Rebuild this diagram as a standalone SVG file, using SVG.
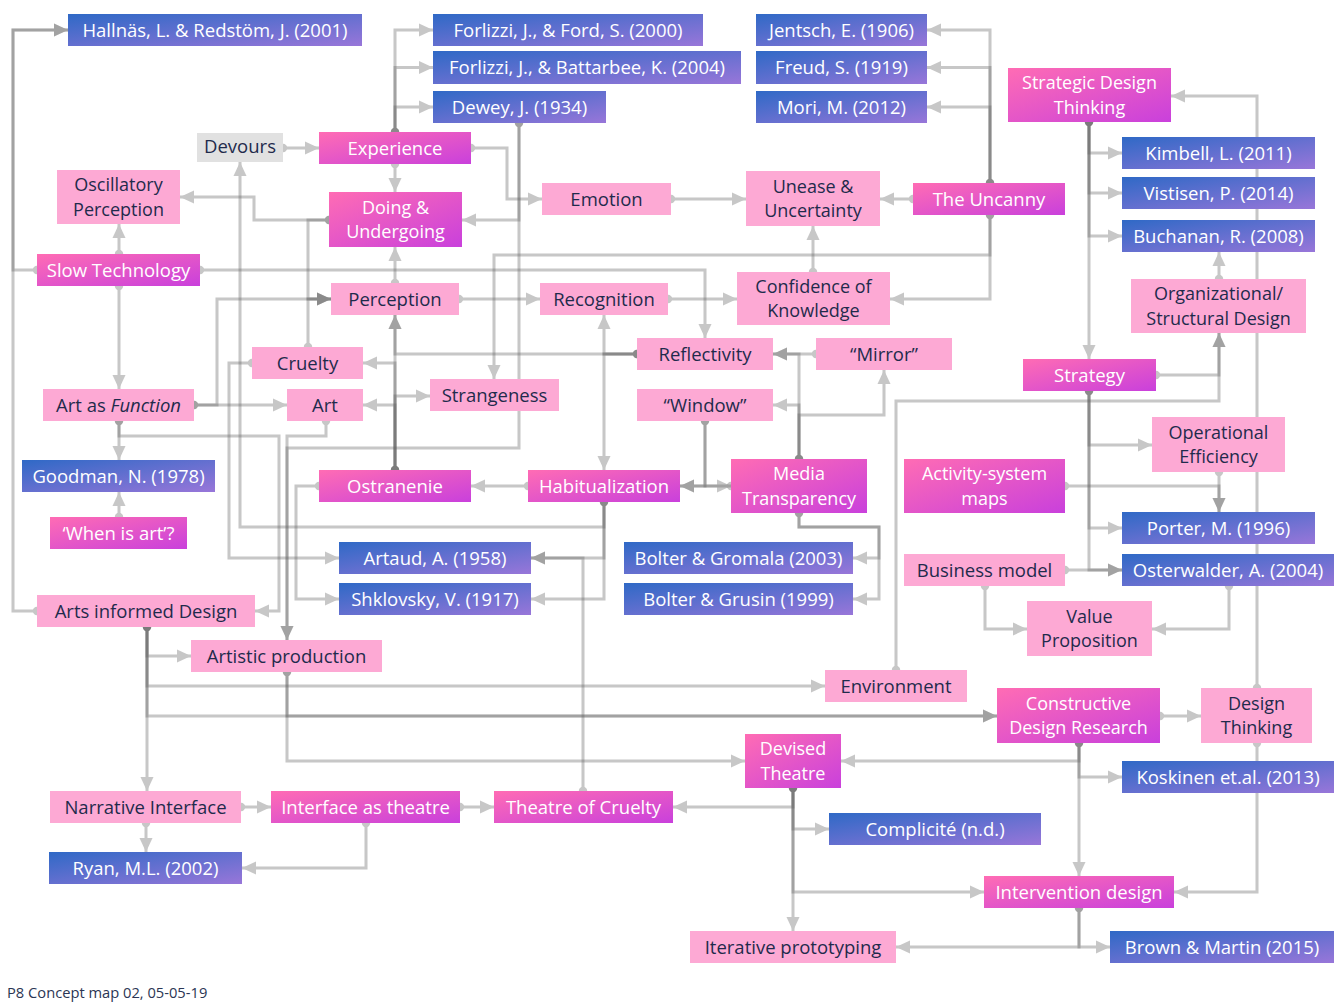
<svg xmlns="http://www.w3.org/2000/svg" width="1344" height="1008" viewBox="0 0 1344 1008">
<defs>
<linearGradient id="gb" x1="0" y1="0" x2="1" y2="1"><stop offset="0" stop-color="#2f69c6"/><stop offset="1" stop-color="#9876d9"/></linearGradient>
<linearGradient id="gm" x1="0" y1="0" x2="1" y2="1"><stop offset="0" stop-color="#ff6cb4"/><stop offset="1" stop-color="#c940dc"/></linearGradient>
<marker id="a" viewBox="0 0 14 14" refX="14" refY="7" markerWidth="14" markerHeight="14" markerUnits="userSpaceOnUse" orient="auto"><path d="M0,0.5 L14,7 L0,13.5z" fill="#606060"/></marker>
<marker id="d" viewBox="0 0 10 10" refX="5" refY="5" markerWidth="10" markerHeight="10" markerUnits="userSpaceOnUse"><circle cx="5" cy="5" r="4.2" fill="#606060"/></marker>
</defs>
<style>
.c{fill:none;stroke:#606060;stroke-width:3;opacity:.35;marker-start:url(#d);marker-end:url(#a)}
.b{fill:url(#gb)}.m{fill:url(#gm)}.p{fill:#fda9d4}.g{fill:#e1e1e1}
text{font-family:"Open Sans","Noto Sans","DejaVu Sans",sans-serif;font-size:18.5px;text-anchor:middle}
text.s{font-size:18px}
.w{fill:#fff}.k{fill:#1f2b4c}
</style>
<rect width="1344" height="1008" fill="#fff"/>
<g id="connectors">
<path class="c" d="M37,270 H13 V30 H68"/>
<path class="c" d="M37,611 H13 V30 H68"/>
<path class="c" d="M119,254 V224"/>
<path class="c" d="M119,286 V389"/>
<path class="c" d="M200,270 H705 V338"/>
<path class="c" d="M194,405 H287"/>
<path class="c" d="M194,405 H217 V299 H331"/>
<path class="c" d="M119,421 V460"/>
<path class="c" d="M119,421 V436 H279 V611 H255"/>
<path class="c" d="M119,517 V492"/>
<path class="c" d="M326,421 V436 H287 V640"/>
<path class="c" d="M519,123 V448 H287 V640"/>
<path class="c" d="M519,123 V220 H462"/>
<path class="c" d="M329,220 H254 V197 H180"/>
<path class="c" d="M329,220 H308 V299 H331"/>
<path class="c" d="M308,347 V299 H331"/>
<path class="c" d="M252,363 H229 V558 H339"/>
<path class="c" d="M283,148 H319"/>
<path class="c" d="M395,132 V30 H433"/>
<path class="c" d="M395,132 V67.5 H433"/>
<path class="c" d="M395,132 V107 H433"/>
<path class="c" d="M395,164 V192"/>
<path class="c" d="M471,148 H507 V199 H542"/>
<path class="c" d="M395,283 V247"/>
<path class="c" d="M459,299 H540"/>
<path class="c" d="M668,299 H737"/>
<path class="c" d="M671,199 H746"/>
<path class="c" d="M913,199 H880"/>
<path class="c" d="M990,183 V30 H927"/>
<path class="c" d="M990,183 V67.5 H927"/>
<path class="c" d="M990,183 V107 H927"/>
<path class="c" d="M990,215 V255 H494 V379"/>
<path class="c" d="M990,215 V299 H890"/>
<path class="c" d="M813,272 V226"/>
<path class="c" d="M395,470 V315"/>
<path class="c" d="M395,470 V396 H430"/>
<path class="c" d="M395,470 V405 H363"/>
<path class="c" d="M395,470 V363 H363"/>
<path class="c" d="M319,486 H296 V599 H339"/>
<path class="c" d="M637,354 H604 V315"/>
<path class="c" d="M637,354 H604 V470"/>
<path class="c" d="M637,354 H395 V315"/>
<path class="c" d="M528,486 H471"/>
<path class="c" d="M604,502 V527 H240 V162"/>
<path class="c" d="M604,502 V558 H531"/>
<path class="c" d="M604,502 V599 H531"/>
<path class="c" d="M583,791 V558 H531"/>
<path class="c" d="M705,421 V486 H731"/>
<path class="c" d="M705,421 V486 H680"/>
<path class="c" d="M731,486 H680"/>
<path class="c" d="M799,459 V354 H773"/>
<path class="c" d="M799,459 V405 H773"/>
<path class="c" d="M799,459 V415 H884 V370"/>
<path class="c" d="M816,354 H773"/>
<path class="c" d="M799,513 V527 H879 V558 H853"/>
<path class="c" d="M799,513 V527 H879 V599 H853"/>
<path class="c" d="M147,627 V656 H191"/>
<path class="c" d="M147,627 V686 H825"/>
<path class="c" d="M147,627 V716 H997"/>
<path class="c" d="M147,627 V791"/>
<path class="c" d="M287,672 V716 H997"/>
<path class="c" d="M287,672 V761 H745"/>
<path class="c" d="M146,823 V852"/>
<path class="c" d="M241,807 H271"/>
<path class="c" d="M366,823 V868 H242"/>
<path class="c" d="M460,807 H494"/>
<path class="c" d="M793,788 V807 H673"/>
<path class="c" d="M793,788 V829 H829"/>
<path class="c" d="M793,788 V892 H984"/>
<path class="c" d="M793,788 V931"/>
<path class="c" d="M1160,716 H1201"/>
<path class="c" d="M1079,743 V761 H841"/>
<path class="c" d="M1079,743 V777 H1122"/>
<path class="c" d="M1079,743 V876"/>
<path class="c" d="M1257,743 V892 H1174"/>
<path class="c" d="M1257,688 V96 H1171"/>
<path class="c" d="M1079,908 V947 H1110"/>
<path class="c" d="M1079,908 V947 H896"/>
<path class="c" d="M1089,122 V153 H1122"/>
<path class="c" d="M1089,122 V193 H1122"/>
<path class="c" d="M1089,122 V236 H1122"/>
<path class="c" d="M1089,122 V359"/>
<path class="c" d="M1156,375 H1219 V333"/>
<path class="c" d="M896,670 V401 H1219 V333"/>
<path class="c" d="M1219,279 V252"/>
<path class="c" d="M1089,391 V445 H1152"/>
<path class="c" d="M1089,391 V528 H1122"/>
<path class="c" d="M1089,391 V570 H1122"/>
<path class="c" d="M1219,472 V512"/>
<path class="c" d="M1065,486 H1219 V512"/>
<path class="c" d="M1065,570 H1122"/>
<path class="c" d="M1229,586 V629 H1152"/>
<path class="c" d="M985,586 V629 H1027"/>
</g>
<g id="hallnas"><rect class="b" x="68" y="14" width="294" height="32"/><text class="w" x="215" y="36.7">Hallnäs, L. &amp; Redstöm, J. (2001)</text></g>
<g id="forlizzi-ford"><rect class="b" x="433" y="14" width="270" height="32"/><text class="w" x="568" y="36.7">Forlizzi, J., &amp; Ford, S. (2000)</text></g>
<g id="forlizzi-battarbee"><rect class="b" x="433" y="51" width="308" height="33"/><text class="w" x="587" y="74">Forlizzi, J., &amp; Battarbee, K. (2004)</text></g>
<g id="dewey"><rect class="b" x="433" y="91" width="173" height="32"/><text class="w" x="519.5" y="113.7">Dewey, J. (1934)</text></g>
<g id="jentsch"><rect class="b" x="756" y="14" width="171" height="32"/><text class="w" x="841.5" y="36.7">Jentsch, E. (1906)</text></g>
<g id="freud"><rect class="b" x="756" y="51" width="171" height="33"/><text class="w" x="841.5" y="74">Freud, S. (1919)</text></g>
<g id="mori"><rect class="b" x="756" y="91" width="171" height="32"/><text class="w" x="841.5" y="113.7">Mori, M. (2012)</text></g>
<g id="kimbell"><rect class="b" x="1122" y="137" width="193" height="32"/><text class="w" x="1218.5" y="159.7">Kimbell, L. (2011)</text></g>
<g id="vistisen"><rect class="b" x="1122" y="177" width="193" height="32"/><text class="w" x="1218.5" y="199.7">Vistisen, P. (2014)</text></g>
<g id="buchanan"><rect class="b" x="1122" y="220" width="193" height="32"/><text class="w" x="1218.5" y="242.7">Buchanan, R. (2008)</text></g>
<g id="goodman"><rect class="b" x="22" y="460" width="193" height="32"/><text class="w" x="118.5" y="482.7">Goodman, N. (1978)</text></g>
<g id="artaud"><rect class="b" x="339" y="542" width="192" height="32"/><text class="w" x="435" y="564.7">Artaud, A. (1958)</text></g>
<g id="shklovsky"><rect class="b" x="339" y="583" width="192" height="32"/><text class="w" x="435" y="605.7">Shklovsky, V. (1917)</text></g>
<g id="bolter-gromala"><rect class="b" x="624" y="542" width="229" height="32"/><text class="w" x="738.5" y="564.7">Bolter &amp; Gromala (2003)</text></g>
<g id="bolter-grusin"><rect class="b" x="624" y="583" width="229" height="32"/><text class="w" x="738.5" y="605.7">Bolter &amp; Grusin (1999)</text></g>
<g id="porter"><rect class="b" x="1122" y="512" width="193" height="32"/><text class="w" x="1218.5" y="534.7">Porter, M. (1996)</text></g>
<g id="osterwalder"><rect class="b" x="1122" y="554" width="212" height="32"/><text class="w" x="1228" y="576.7">Osterwalder, A. (2004)</text></g>
<g id="ryan"><rect class="b" x="49" y="852" width="193" height="32"/><text class="w" x="145.5" y="874.7">Ryan, M.L. (2002)</text></g>
<g id="complicite"><rect class="b" x="829" y="813" width="212" height="32"/><text class="w" x="935" y="835.7">Complicité (n.d.)</text></g>
<g id="koskinen"><rect class="b" x="1122" y="761" width="212" height="32"/><text class="w" x="1228" y="783.7">Koskinen et.al. (2013)</text></g>
<g id="brown-martin"><rect class="b" x="1110" y="931" width="224" height="32"/><text class="w" x="1222" y="953.7">Brown &amp; Martin (2015)</text></g>
<g id="experience"><rect class="m" x="319" y="132" width="152" height="32"/><text class="w" x="395" y="154.7">Experience</text></g>
<g id="doing-undergoing"><rect class="m" x="329" y="192" width="133" height="55"/><text class="w s"><tspan x="395.5" y="213.6">Doing &amp;</tspan><tspan x="395.5" y="238.2">Undergoing</tspan></text></g>
<g id="slow-technology"><rect class="m" x="37" y="254" width="163" height="32"/><text class="w" x="118.5" y="276.7">Slow Technology</text></g>
<g id="the-uncanny"><rect class="m" x="913" y="183" width="152" height="32"/><text class="w" x="989" y="205.7">The Uncanny</text></g>
<g id="strategic-design-thinking"><rect class="m" x="1008" y="68" width="163" height="54"/><text class="w s"><tspan x="1089.5" y="89.1">Strategic Design</tspan><tspan x="1089.5" y="113.7">Thinking</tspan></text></g>
<g id="ostranenie"><rect class="m" x="319" y="470" width="152" height="32"/><text class="w" x="395" y="492.7">Ostranenie</text></g>
<g id="habitualization"><rect class="m" x="528" y="470" width="152" height="32"/><text class="w" x="604" y="492.7">Habitualization</text></g>
<g id="media-transparency"><rect class="m" x="731" y="459" width="136" height="54"/><text class="w s"><tspan x="799" y="480.1">Media</tspan><tspan x="799" y="504.7">Transparency</tspan></text></g>
<g id="activity-system-maps"><rect class="m" x="904" y="459" width="161" height="54"/><text class="w s"><tspan x="984.5" y="480.1">Activity-system</tspan><tspan x="984.5" y="504.7">maps</tspan></text></g>
<g id="strategy"><rect class="m" x="1023" y="359" width="133" height="32"/><text class="w" x="1089.5" y="381.7">Strategy</text></g>
<g id="when-is-art"><rect class="m" x="50" y="517" width="137" height="32"/><text class="w" x="118.5" y="539.7">‘When is art’?</text></g>
<g id="interface-as-theatre"><rect class="m" x="271" y="791" width="189" height="32"/><text class="w" x="365.5" y="813.7">Interface as theatre</text></g>
<g id="theatre-of-cruelty"><rect class="m" x="494" y="791" width="179" height="32"/><text class="w" x="583.5" y="813.7">Theatre of Cruelty</text></g>
<g id="devised-theatre"><rect class="m" x="745" y="734" width="96" height="54"/><text class="w s"><tspan x="793" y="755.1">Devised</tspan><tspan x="793" y="779.7">Theatre</tspan></text></g>
<g id="constructive-design-research"><rect class="m" x="997" y="688" width="163" height="55"/><text class="w s"><tspan x="1078.5" y="709.6">Constructive</tspan><tspan x="1078.5" y="734.2">Design Research</tspan></text></g>
<g id="intervention-design"><rect class="m" x="984" y="876" width="190" height="32"/><text class="w" x="1079" y="898.7">Intervention design</text></g>
<g id="oscillatory-perception"><rect class="p" x="57" y="170" width="123" height="54"/><text class="k s"><tspan x="118.5" y="191.1">Oscillatory</tspan><tspan x="118.5" y="215.7">Perception</tspan></text></g>
<g id="perception"><rect class="p" x="331" y="283" width="128" height="32"/><text class="k" x="395" y="305.7">Perception</text></g>
<g id="emotion"><rect class="p" x="542" y="183" width="129" height="32"/><text class="k" x="606.5" y="205.7">Emotion</text></g>
<g id="recognition"><rect class="p" x="540" y="283" width="128" height="32"/><text class="k" x="604" y="305.7">Recognition</text></g>
<g id="unease-uncertainty"><rect class="p" x="746" y="171" width="134" height="55"/><text class="k s"><tspan x="813" y="192.6">Unease &amp;</tspan><tspan x="813" y="217.2">Uncertainty</tspan></text></g>
<g id="confidence-of-knowledge"><rect class="p" x="737" y="272" width="153" height="53"/><text class="k s"><tspan x="813.5" y="292.6">Confidence of</tspan><tspan x="813.5" y="317.2">Knowledge</tspan></text></g>
<g id="organizational-structural-design"><rect class="p" x="1131" y="279" width="175" height="54"/><text class="k s"><tspan x="1218.5" y="300.1">Organizational/</tspan><tspan x="1218.5" y="324.7">Structural Design</tspan></text></g>
<g id="cruelty"><rect class="p" x="252" y="347" width="111" height="32"/><text class="k" x="307.5" y="369.7">Cruelty</text></g>
<g id="art-as-function"><rect class="p" x="43" y="389" width="151" height="32"/><text class="k" x="118.5" y="411.7">Art as <tspan font-style="italic">Function</tspan></text></g>
<g id="art"><rect class="p" x="287" y="389" width="76" height="32"/><text class="k" x="325" y="411.7">Art</text></g>
<g id="strangeness"><rect class="p" x="430" y="379" width="129" height="32"/><text class="k" x="494.5" y="401.7">Strangeness</text></g>
<g id="reflectivity"><rect class="p" x="637" y="338" width="136" height="32"/><text class="k" x="705" y="360.7">Reflectivity</text></g>
<g id="window"><rect class="p" x="637" y="389" width="136" height="32"/><text class="k" x="705" y="411.7">“Window”</text></g>
<g id="mirror"><rect class="p" x="816" y="338" width="136" height="32"/><text class="k" x="884" y="360.7">“Mirror”</text></g>
<g id="operational-efficiency"><rect class="p" x="1152" y="417" width="133" height="55"/><text class="k s"><tspan x="1218.5" y="438.6">Operational</tspan><tspan x="1218.5" y="463.2">Efficiency</tspan></text></g>
<g id="business-model"><rect class="p" x="904" y="554" width="161" height="32"/><text class="k" x="984.5" y="576.7">Business model</text></g>
<g id="value-proposition"><rect class="p" x="1027" y="601" width="125" height="55"/><text class="k s"><tspan x="1089.5" y="622.6">Value</tspan><tspan x="1089.5" y="647.2">Proposition</tspan></text></g>
<g id="arts-informed-design"><rect class="p" x="37" y="595" width="218" height="32"/><text class="k" x="146" y="617.7">Arts informed Design</text></g>
<g id="artistic-production"><rect class="p" x="191" y="640" width="191" height="32"/><text class="k" x="286.5" y="662.7">Artistic production</text></g>
<g id="environment"><rect class="p" x="825" y="670" width="142" height="32"/><text class="k" x="896" y="692.7">Environment</text></g>
<g id="design-thinking"><rect class="p" x="1201" y="688" width="111" height="55"/><text class="k s"><tspan x="1256.5" y="709.6">Design</tspan><tspan x="1256.5" y="734.2">Thinking</tspan></text></g>
<g id="narrative-interface"><rect class="p" x="50" y="791" width="191" height="32"/><text class="k" x="145.5" y="813.7">Narrative Interface</text></g>
<g id="iterative-prototyping"><rect class="p" x="690" y="931" width="206" height="32"/><text class="k" x="793" y="953.7">Iterative prototyping</text></g>
<g id="devours"><rect class="g" x="197" y="133" width="86" height="29"/><text class="k" x="240" y="153" font-size="15.5">Devours</text></g>
<text x="7" y="998" style="text-anchor:start;font-size:14.7px" fill="#2b3654">P8 Concept map 02, 05-05-19</text>
</svg>
